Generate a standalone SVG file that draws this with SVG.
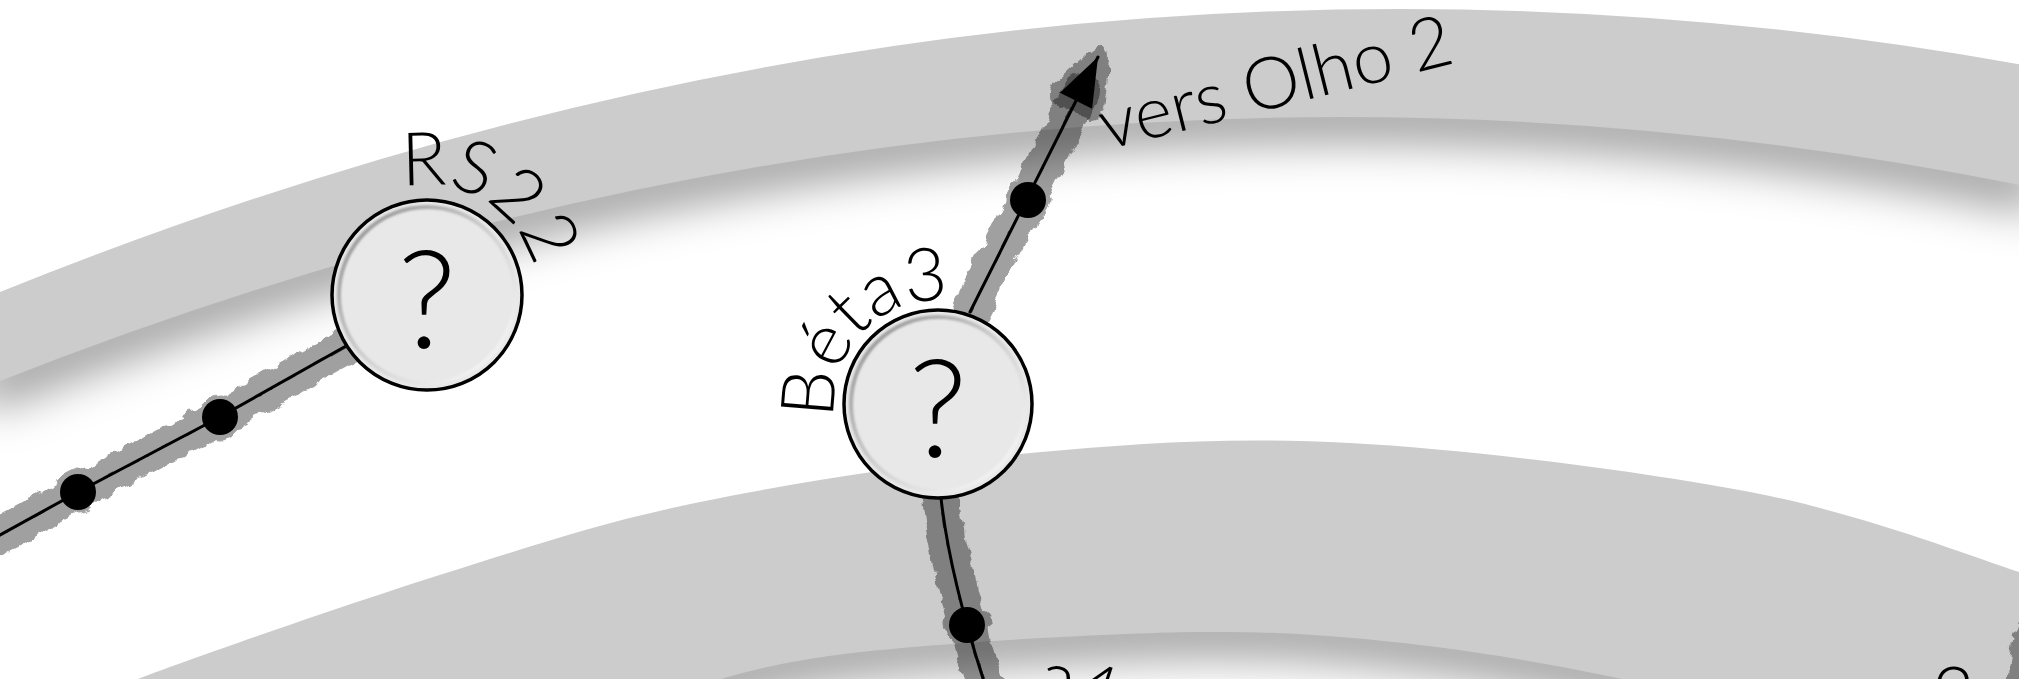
<svg xmlns="http://www.w3.org/2000/svg" width="2019" height="679" viewBox="0 0 2019 679">
<defs>
<style>
.band{fill:#cccccc}
.edgeShadow{fill:none;stroke:#000;stroke-opacity:.47;stroke-width:40;filter:url(#soft)}
.shadow{fill:#000;stroke:#000;stroke-linecap:round;stroke-linejoin:round}
.wire{fill:none;stroke:#000;stroke-width:3;stroke-linecap:round}
.sketch{fill:none;stroke:#000;stroke-width:1.4;stroke-opacity:.6;filter:url(#wobble)}
.dot{fill:#000}
.nodeFill{fill:#e8e8e8;stroke:#000;stroke-width:3.5}
.bevel{fill:none;stroke:url(#bevelGrad);stroke-width:4;filter:url(#bevelBlur)}
.q{font-family:Lato,"Liberation Sans",sans-serif;font-weight:300;font-size:136px;text-anchor:middle;fill:#000}
.lbl{font-family:Lato,"Liberation Sans",sans-serif;font-weight:300;font-size:74px;fill:#000}
.vers{font-size:72px}
</style>
<filter id="soft" filterUnits="userSpaceOnUse" x="-200" y="-200" width="2500" height="1100"><feGaussianBlur stdDeviation="24"/></filter>
<filter id="rough" filterUnits="userSpaceOnUse" x="-100" y="-100" width="2300" height="900">
<feTurbulence type="fractalNoise" baseFrequency="0.06" numOctaves="3" seed="4" result="n"/>
<feDisplacementMap in="SourceGraphic" in2="n" scale="12" xChannelSelector="R" yChannelSelector="G"/>
</filter>
<filter id="wobble" filterUnits="userSpaceOnUse" x="-100" y="-100" width="2300" height="900">
<feTurbulence type="fractalNoise" baseFrequency="0.04" numOctaves="2" seed="9" result="n"/>
<feDisplacementMap in="SourceGraphic" in2="n" scale="6" xChannelSelector="R" yChannelSelector="G"/>
</filter>
<filter id="bevelBlur" x="-10%" y="-10%" width="120%" height="120%"><feGaussianBlur stdDeviation="1.2"/></filter>
<linearGradient id="bevelGrad" x1="0" y1="0" x2="1" y2="1">
<stop offset="0" stop-color="#8a8a8a"/><stop offset="0.5" stop-color="#d0d0d0"/><stop offset="1" stop-color="#ffffff"/>
</linearGradient>
<marker id="arrow" markerUnits="userSpaceOnUse" viewBox="-52 -20 56 40" markerWidth="56" markerHeight="40" refX="0" refY="0" orient="auto">
<path d="M0,0 L-49,-18 L-49,18 Z" fill="#000"/>
</marker>
<path id="p-rs22" d="M402.3,187.8 A110,110 0 0 1 470,396.3"/>
<path id="p-beta3" d="M835,418.5 A104,104 0 0 1 1036.9,371.9"/>
</defs>

<rect x="0" y="0" width="2019" height="679" fill="#ffffff"/>

<g id="bands">
<path class="edgeShadow" d="M-20,388.9 Q1010,-22.9 2040,189"/>
<path class="edgeShadow" d="M650,715 L721,679 C759.3,668.2 800.2,657.8 880,650 C959.8,642.2 1110,632.8 1200,632 C1290,631.2 1349.7,637.2 1420,645 C1490.3,652.8 1578.7,669.8 1622,679 L1680,700"/>
<path class="band" d="M-20,300.2 Q1010,-122.2 2040,68.1 L2040,189 Q1010,-22.9 -20,388.9 Z"/>
<path class="band" d="M60,720 L138,679 C202.3,654.5 352.3,602.5 446,573 C539.7,543.5 602.7,522 700,502 C797.3,482 921.7,462.8 1030,453 C1138.3,443.2 1230,436.5 1350,443 C1470,449.5 1638.5,470.5 1750,492 C1861.5,513.5 1964,554 2019,572 L2080,600 L2080,760 L1680,760 L1680,700 L1622,679 C1578.7,669.8 1490.3,652.8 1420,645 C1349.7,637.2 1290,631.2 1200,632 C1110,632.8 959.8,642.2 880,650 C800.2,657.8 759.3,668.2 721,679 L650,715 L650,760 L60,760 Z"/>
</g>

<g id="connectors">
<g opacity=".37" filter="url(#rough)">
<path class="shadow" fill="none" stroke-width="36" d="M-20,546 L78,492 L220,417 L350,344"/>
<circle class="shadow" cx="78" cy="492" r="22"/>
<circle class="shadow" cx="220" cy="417" r="22"/>
</g>
<g opacity=".37" filter="url(#rough)">
<path class="shadow" fill="none" stroke-width="36" d="M965,322 L1082,90"/>
<circle class="shadow" cx="1028" cy="200" r="22"/>
</g>
<g opacity=".37" filter="url(#rough)">
<path class="shadow" stroke-width="22" d="M1098,57 L1059.9,92.7 L1092.1,108.9 Z"/>
</g>
<g opacity=".37" filter="url(#rough)">
<path class="shadow" fill="none" stroke-width="38" d="M941,498 Q950,580 990,700"/>
<circle class="shadow" cx="967" cy="625" r="22"/>
</g>
<g opacity=".37" filter="url(#rough)">
<path class="shadow" fill="none" stroke-width="40" d="M2045,610 Q2025,650 2030,700"/>
</g>

<path class="wire" d="M-20,546 L78,492 L220,417 L346,346"/>
<path class="sketch" d="M-20,546 L78,492 L220,417 L346,346"/>
<path class="wire" d="M970,312 L1098,57" marker-end="url(#arrow)"/>
<path class="sketch" d="M970,312 L1080,92"/>
<path class="wire" d="M941,498 Q950,580 990,700"/>
<path class="sketch" d="M941,498 Q950,580 990,700"/>

<circle class="dot" cx="78" cy="492" r="18"/>
<circle class="dot" cx="220" cy="417" r="18"/>
<circle class="dot" cx="1028" cy="200" r="18"/>
<circle class="dot" cx="967" cy="625" r="18"/>
</g>

<g id="node-rs22">
<circle class="nodeFill" cx="427" cy="295" r="95"/>
<circle class="bevel" cx="427" cy="295" r="88"/>
<text class="q" x="427" y="348">?</text>
<text class="lbl"><textPath href="#p-rs22">RS22</textPath></text>
</g>

<g id="node-beta3">
<circle class="nodeFill" cx="938" cy="404" r="94"/>
<circle class="bevel" cx="938" cy="404" r="87"/>
<text class="q" x="938" y="457">?</text>
<text class="lbl"><textPath href="#p-beta3">Béta3</textPath></text>
</g>

<g id="label-a4">
<text class="lbl" font-size="70" transform="translate(1033,697) rotate(18)">a4</text>
</g>

<g id="label-br">
<text class="lbl" font-size="70" x="1932" y="720">2</text>
</g>

<g id="label-olho">
<text class="lbl vers" transform="translate(1106,150) rotate(-14)">vers Olho 2</text>
</g>
</svg>
